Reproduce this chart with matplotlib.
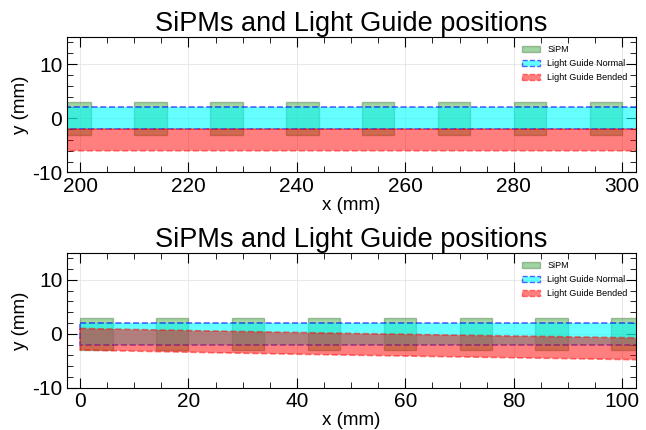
import matplotlib
matplotlib.use("Agg")
import matplotlib.pyplot as plt
from matplotlib.patches import Rectangle, Patch
from matplotlib.ticker import MultipleLocator

plt.rcParams['font.family'] = ['Liberation Sans', 'DejaVu Sans']
plt.rcParams['axes.unicode_minus'] = False

# SiPM left edges (mm), 6x6 mm, pitch 14 mm
sipm_x = [0, 14, 28, 42, 56, 70, 84, 98, 112, 126, 140, 154, 168, 182,
          196, 210, 224, 238, 252, 266, 280, 294, 308]
sipm_size = 6.0

# light guide normal: straight band
lg_normal_x = [0, 320]
lg_normal_top = [2, 2]
lg_normal_bot = [-2, -2]

# light guide bended: edges
lg_bend_x = [0, 25, 50, 75, 100, 125, 150, 175, 200, 320]
lg_bend_top = [1.0, 0.52, 0.08, -0.33, -0.70, -1.05, -1.4, -1.7, -2.0, -2.0]
lg_bend_bot = [-3.0, -3.5, -3.95, -4.35, -4.75, -5.1, -5.45, -5.75, -6.0, -6.0]

xlims = [(197.5, 302.5), (-2.5, 102.5)]
xticks = [[200, 220, 240, 260, 280, 300], [0, 20, 40, 60, 80, 100]]


def band(ax, x, top, bot, fc, ec, alpha, label):
    xs = list(x) + list(x[::-1])
    ys = list(top) + list(bot[::-1])
    ax.fill(xs, ys, facecolor=fc, alpha=alpha, edgecolor=ec,
            linestyle='--', linewidth=1.2, label=label)


fig = plt.figure(figsize=(6.46, 4.30), dpi=100)
axes = [fig.add_axes([0.103, 0.599, 0.881, 0.315]),
        fig.add_axes([0.103, 0.098, 0.881, 0.314])]

for ax, xl, xt in zip(axes, xlims, xticks):
    for i, x0 in enumerate(sipm_x):
        ax.add_patch(Rectangle((x0, -sipm_size / 2), sipm_size, sipm_size,
                               facecolor='tab:green', edgecolor='#4a7a4a',
                               alpha=0.45, linewidth=1.0))
    band(ax, lg_normal_x, lg_normal_top, lg_normal_bot, 'cyan', 'blue', 0.6,
         'Light Guide Normal')
    band(ax, lg_bend_x, lg_bend_top, lg_bend_bot, 'red', 'red', 0.5,
         'Light Guide Bended')

    ax.set_xlim(*xl)
    ax.set_ylim(-10, 15)
    ax.set_xticks(xt)
    ax.set_yticks([-10, 0, 10])
    ax.xaxis.set_minor_locator(MultipleLocator(5))
    ax.yaxis.set_minor_locator(MultipleLocator(2))
    ax.tick_params(which='both', direction='in', top=True, right=True,
                   labelsize=15, pad=3)
    ax.tick_params(which='major', length=7)
    ax.tick_params(which='minor', length=4)
    ax.grid(True, which='major', color='#e4e4e4', linewidth=0.6)
    ax.set_axisbelow(True)
    ax.set_xlabel('x (mm)', fontsize=13.5, labelpad=1)
    ax.set_ylabel('y (mm)', fontsize=13.5)
    ax.yaxis.set_label_coords(-0.066, 0.5)
    ax.set_title('SiPMs and Light Guide positions', fontsize=19.5, pad=4)

    handles = [Patch(facecolor='tab:green', edgecolor='#4a7a4a', alpha=0.45),
               Patch(facecolor='cyan', edgecolor='blue', alpha=0.6, linestyle='--'),
               Patch(facecolor='red', edgecolor='red', alpha=0.5, linestyle='--')]
    ax.legend(handles, ['SiPM', 'Light Guide Normal', 'Light Guide Bended'],
              loc='upper right', fontsize=6.5, frameon=False,
              handlelength=2.0, handletextpad=0.8, labelspacing=0.55)

fig.savefig('out.png', dpi=100)
